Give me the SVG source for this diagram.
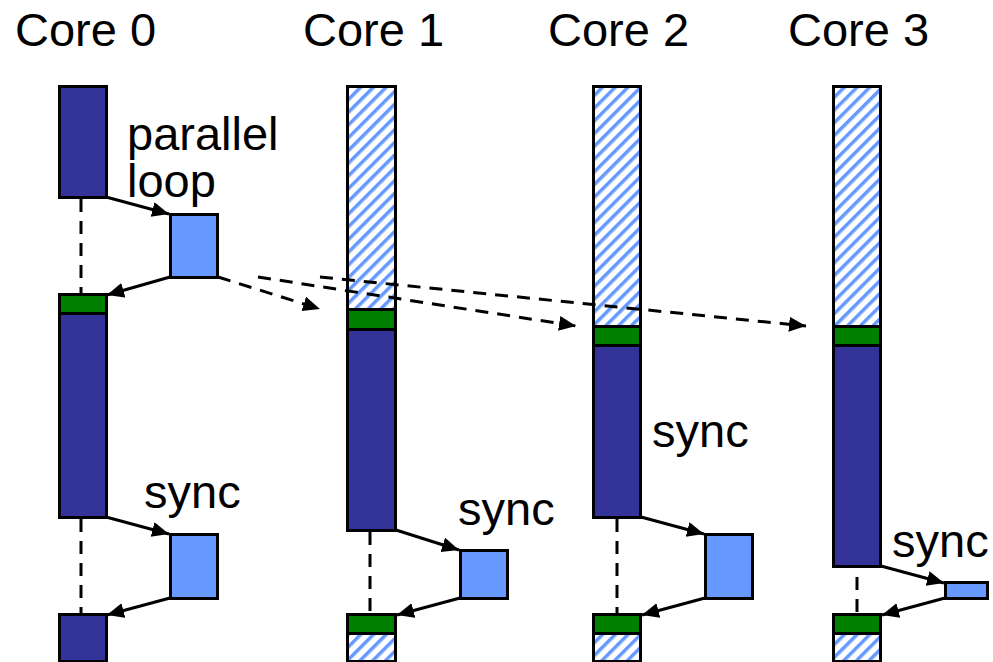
<svg xmlns="http://www.w3.org/2000/svg" width="993" height="662" viewBox="0 0 993 662">
<defs>
<pattern id="hatch" patternUnits="userSpaceOnUse" width="9" height="9" patternTransform="rotate(45)">
<rect width="9" height="9" fill="#ffffff"/>
<rect x="0" y="0" width="3.5" height="9" fill="#6699ff"/>
</pattern>
<marker id="ah" markerUnits="userSpaceOnUse" markerWidth="20" markerHeight="16" refX="17" refY="7.5" orient="auto">
<path d="M0,0 L17,7.5 L0,15 Z" fill="#000"/>
</marker>
</defs>
<style>
.dk{fill:#333399;stroke:#000;stroke-width:3}
.lt{fill:#6699ff;stroke:#000;stroke-width:3}
.gr{fill:#008000;stroke:#000;stroke-width:3}
.ht{fill:url(#hatch);stroke:#000;stroke-width:3}
.t{font-family:"Liberation Sans",Arial,sans-serif;font-size:47px;fill:#000}
.a{stroke:#000;stroke-width:3;fill:none;marker-end:url(#ah)}
.d{stroke:#000;stroke-width:3;fill:none;stroke-dasharray:13,9}
</style>
<rect width="993" height="662" fill="#fff"/>
<g id="titles">
<text class="t" x="15" y="46">Core 0</text>
<text class="t" x="303" y="46">Core 1</text>
<text class="t" x="548" y="46">Core 2</text>
<text class="t" x="788" y="46">Core 3</text>
</g>
<g id="core0">
<rect class="dk" x="59.5" y="86.5" width="47" height="111"/>
<rect class="gr" x="59.5" y="294.5" width="47" height="19"/>
<rect class="dk" x="59.5" y="313.5" width="47" height="204"/>
<rect class="dk" x="59.5" y="614.5" width="47" height="47"/>
<rect id="loop0" class="lt" x="170.5" y="214.5" width="47" height="63"/>
<rect id="sync0" class="lt" x="170.5" y="534.5" width="47" height="64"/>
<text class="t" x="127" y="150">parallel</text>
<text class="t" x="127" y="197">loop</text>
<text class="t" x="144" y="508">sync</text>
</g>
<g id="core1">
<rect class="ht" x="347.5" y="86.5" width="48" height="223"/>
<rect class="gr" x="347.5" y="309.5" width="48" height="20"/>
<rect class="dk" x="347.5" y="329.5" width="48" height="201"/>
<rect class="gr" x="347.5" y="614.5" width="48" height="19"/>
<rect class="ht" x="347.5" y="633.5" width="48" height="28"/>
<rect id="sync1" class="lt" x="460.5" y="550.5" width="47" height="48"/>
<text class="t" x="458" y="525">sync</text>
</g>
<g id="core2">
<rect class="ht" x="593.5" y="86.5" width="47" height="240"/>
<rect class="gr" x="593.5" y="326.5" width="47" height="19"/>
<rect class="dk" x="593.5" y="345.5" width="47" height="172"/>
<rect class="gr" x="593.5" y="614.5" width="47" height="19"/>
<rect class="ht" x="593.5" y="633.5" width="47" height="28"/>
<rect id="sync2" class="lt" x="705.5" y="534.5" width="47" height="64"/>
<text class="t" x="652" y="447">sync</text>
</g>
<g id="core3">
<rect class="ht" x="833.5" y="86.5" width="47" height="240"/>
<rect class="gr" x="833.5" y="326.5" width="47" height="19"/>
<rect class="dk" x="833.5" y="345.5" width="47" height="221"/>
<rect class="gr" x="833.5" y="614.5" width="47" height="19"/>
<rect class="ht" x="833.5" y="633.5" width="47" height="28"/>
<rect id="sync3" class="lt" x="945.5" y="582.5" width="42" height="16"/>
<text class="t" x="892" y="557">sync</text>
</g>
<g id="connectors">
<line class="d" x1="81" y1="199" x2="81" y2="293"/>
<line class="d" x1="81" y1="519" x2="81" y2="613"/>
<line class="d" x1="370" y1="532" x2="370" y2="613"/>
<line class="d" x1="617" y1="519" x2="617" y2="613"/>
<line class="d" x1="857" y1="577" x2="857" y2="613"/>
<line class="a" x1="106" y1="197" x2="169" y2="214"/>
<line class="a" x1="170" y1="277" x2="107" y2="295"/>
<line class="a" x1="106" y1="517" x2="169" y2="534"/>
<line class="a" x1="170" y1="598" x2="107" y2="615"/>
<line class="a" x1="396" y1="530" x2="459" y2="550"/>
<line class="a" x1="460" y1="598" x2="397" y2="615"/>
<line class="a" x1="641" y1="517" x2="704" y2="534"/>
<line class="a" x1="705" y1="598" x2="642" y2="615"/>
<line class="a" x1="881" y1="566" x2="944" y2="583"/>
<line class="a" x1="945" y1="598" x2="882" y2="615"/>
<line class="d" x1="218" y1="277" x2="320" y2="309" marker-end="url(#ah)"/>
<line class="d" x1="258" y1="277" x2="576" y2="326" marker-end="url(#ah)"/>
<line class="d" x1="320" y1="277" x2="806" y2="326" marker-end="url(#ah)"/>
</g>
</svg>
